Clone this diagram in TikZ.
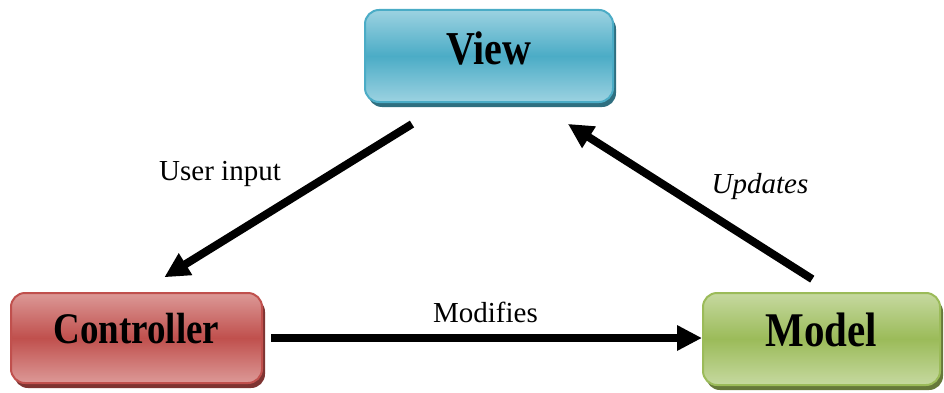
\documentclass[tikz,border=0pt]{standalone}
\usepackage{fontspec}
\setmainfont{Liberation Serif}
\usepackage{graphicx}
\usepackage{tikz}
\usetikzlibrary{positioning,arrows.meta,shadows}

\definecolor{viewblue}{HTML}{4BACC6}
\definecolor{viewlight}{HTML}{9CD2E1}
\definecolor{viewdark}{HTML}{2F6F80}
\definecolor{ctrlred}{HTML}{C0504D}
\definecolor{ctrllight}{HTML}{DC9997}
\definecolor{ctrldark}{HTML}{7E3432}
\definecolor{modelgreen}{HTML}{9BBB59}
\definecolor{modellight}{HTML}{C6D9A0}
\definecolor{modeldark}{HTML}{66793A}

\newcommand{\boxlabel}[1]{\scalebox{1}[1.18]{#1}}

\begin{document}
\begin{tikzpicture}[
    x=1pt, y=1pt,
    font=\fontsize{29}{34}\selectfont,
    box/.style={
        rectangle, rounded corners=14pt,
        line width=2pt, inner sep=0pt,
        text height=28pt, text depth=12pt,
        font=\fontsize{40}{48}\selectfont\bfseries
    },
    viewbox/.style={box, draw=viewblue,
        top color=viewlight, bottom color=viewlight, middle color=viewblue,
        general shadow={shadow xshift=3pt, shadow yshift=-5pt, fill=viewdark}},
    ctrlbox/.style={box, draw=ctrlred,
        top color=ctrllight, bottom color=ctrllight, middle color=ctrlred,
        general shadow={shadow xshift=3pt, shadow yshift=-5pt, fill=ctrldark}},
    modelbox/.style={box, draw=modelgreen,
        top color=modellight, bottom color=modellight, middle color=modelgreen,
        general shadow={shadow xshift=3pt, shadow yshift=-5pt, fill=modeldark}},
    arrow/.style={-{Triangle[length=25pt,width=24pt]}, line width=8pt, black}
]
\useasboundingbox (0,0) rectangle (944,392);

\node[viewbox, minimum width=248pt, minimum height=92pt] (view) at (489,336) {\boxlabel{View}};
\node[ctrlbox, minimum width=251pt, minimum height=90pt, text depth=18pt,
      font=\fontsize{37}{44}\selectfont\bfseries] (ctrl) at (136.5,54) {\boxlabel{Controller}};
\node[modelbox, minimum width=237pt, minimum height=92pt, text depth=14pt,
      font=\fontsize{41}{48}\selectfont\bfseries] (model) at (821.5,53) {\boxlabel{Model}};

\draw[arrow, shorten <=40pt, shorten >=28pt] ([xshift=-43pt]view.south) -- ([xshift=4pt]ctrl.north);
\draw[arrow, shorten <=24pt, shorten >=39pt] ([xshift=11pt]model.north) -- ([xshift=46pt]view.south);
\draw[arrow, shorten <=8pt] (ctrl.east) -- (ctrl.east -| model.west);

\node (input) at (220,218) {User input};
\node (updates) at (760,205) {\textit{Updates}};
\node (modifies) at (485.5,80) {Modifies};

\end{tikzpicture}
\end{document}
